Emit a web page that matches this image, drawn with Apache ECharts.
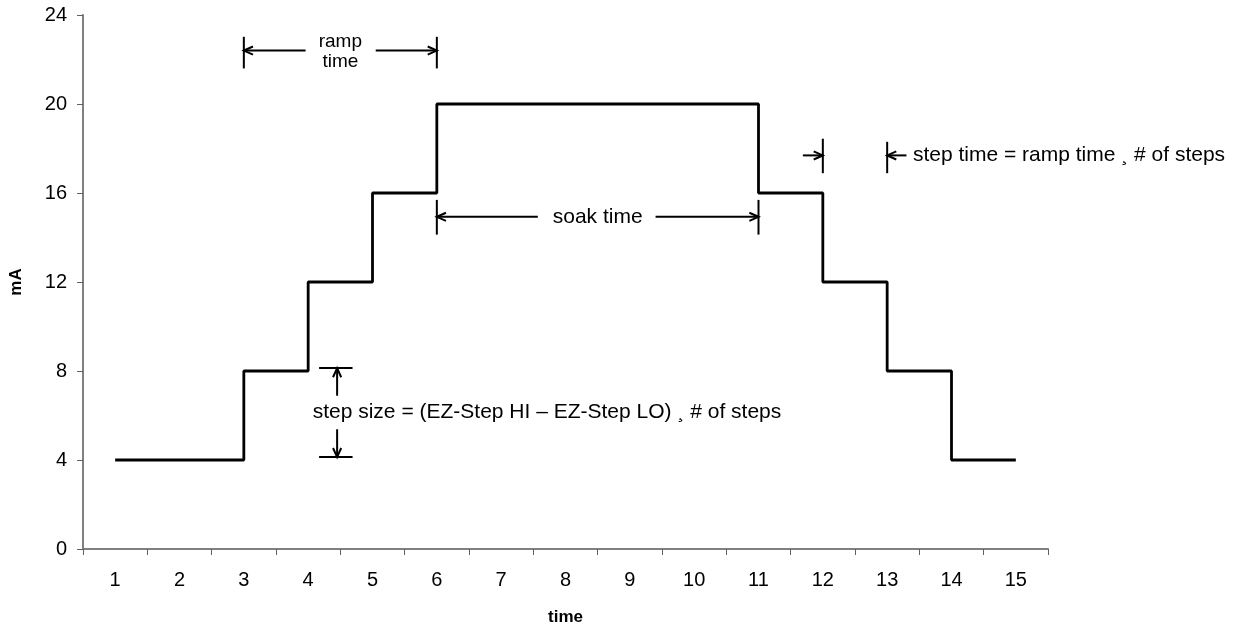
<!DOCTYPE html>
<html>
<head>
<meta charset="utf-8">
<script src="https://cdn.jsdelivr.net/npm/echarts@6/dist/echarts.min.js"></script>
<style>
html,body{margin:0;padding:0;background:#fff;}
#chart{width:1246px;height:631px;}
</style>
</head>
<body>
<div id="chart"></div>
<script>
// ---- data ----
const categories = ['1','2','3','4','5','6','7','8','9','10','11','12','13','14','15'];
const currentMA = [4, 4, 8, 12, 16, 20, 20, 20, 20, 20, 16, 12, 8, 4, 4];
const yTicks = [0, 4, 8, 12, 16, 20, 24];

// annotation segments in data space: [x1, y1, x2, y2]
const annotationBars = [
  [3, 23.02, 3, 21.6], [6, 23.02, 6, 21.6],
  [6, 15.69, 6, 14.13], [11, 15.69, 11, 14.13],
  [12, 18.44, 12, 16.89], [13, 18.3, 13, 16.89],
  [4.17, 8.13, 4.69, 8.13], [4.17, 4.13, 4.69, 4.13]
];
// arrows: [xFrom, yFrom, xHead, yHead]
const annotationArrows = [
  [3.96, 22.4, 3, 22.4], [5.05, 22.4, 6, 22.4],
  [7.57, 14.93, 6, 14.93], [9.4, 14.93, 11, 14.93],
  [11.69, 17.69, 12, 17.69], [13.3, 17.69, 13, 17.69],
  [4.45, 6.89, 4.45, 8.13], [4.45, 5.38, 4.45, 4.13]
];
// texts: [x, y]
const annotationTextPos = [[4.5, 22.33], [8.5, 14.93], [13.4, 17.69], [4.07, 6.13]];
const annotationTextStr = ['ramp\ntime', 'soak time', 'step time = ramp time \u00b8 # of steps', 'step size = (EZ-Step HI \u2013 EZ-Step LO) \u00b8 # of steps'];
const annotationTextAlign = ['center', 'center', 'left', 'left'];
const annotationTextSize = [19, 21, 21, 21];

const FONT = "'Liberation Sans', Arial, sans-serif";
const chart = echarts.init(document.getElementById('chart'));

function segRender(withHead) {
  return function (params, api) {
    const p1 = api.coord([api.value(0), api.value(1)]);
    const p2 = api.coord([api.value(2), api.value(3)]);
    const children = [{
      type: 'line',
      shape: {x1: p1[0], y1: p1[1], x2: p2[0], y2: p2[1]},
      style: {stroke: '#000', lineWidth: 2}
    }];
    if (withHead) {
      const ang = Math.atan2(p2[1] - p1[1], p2[0] - p1[0]);
      const L = 10, a = 0.42;
      children.push({
        type: 'polyline',
        shape: {points: [
          [p2[0] - L * Math.cos(ang - a), p2[1] - L * Math.sin(ang - a)],
          [p2[0], p2[1]],
          [p2[0] - L * Math.cos(ang + a), p2[1] - L * Math.sin(ang + a)]
        ]},
        style: {stroke: '#000', lineWidth: 2, fill: null}
      });
    }
    return {type: 'group', children: children};
  };
}

chart.setOption({
  animation: false,
  backgroundColor: '#fff',
  grid: {left: 82, right: 198, top: 15, bottom: 76},
  xAxis: [{
    type: 'category',
    data: categories,
    boundaryGap: true,
    name: 'time',
    nameLocation: 'middle',
    nameGap: 60,
    nameTextStyle: {fontFamily: FONT, fontSize: 17, fontWeight: 'bold', color: '#000'},
    axisLine: {lineStyle: {color: '#808080', width: 2}},
    axisTick: {show: true, inside: false, length: 6, lineStyle: {color: '#606060', width: 1}},
    axisLabel: {fontFamily: FONT, fontSize: 20, color: '#000', margin: 21},
    splitLine: {show: false}
  }, {
    type: 'value',
    min: 0.5,
    max: 15.5,
    show: false
  }],
  yAxis: {
    type: 'value',
    min: yTicks[0],
    max: yTicks[yTicks.length - 1],
    interval: 4,
    name: 'mA',
    nameLocation: 'middle',
    nameGap: 58,
    nameTextStyle: {fontFamily: FONT, fontSize: 17, fontWeight: 'bold', color: '#000'},
    axisLine: {show: true, lineStyle: {color: '#808080', width: 2}},
    axisTick: {show: true, inside: false, length: 6, lineStyle: {color: '#606060', width: 1}},
    axisLabel: {fontFamily: FONT, fontSize: 20, color: '#000', margin: 16},
    splitLine: {show: false}
  },
  series: [{
    type: 'line',
    xAxisIndex: 0,
    data: currentMA,
    step: 'end',
    symbol: 'none',
    lineStyle: {color: '#000', width: 2.8},
    z: 5
  }, {
    type: 'custom',
    xAxisIndex: 1,
    clip: false,
    data: annotationBars,
    encode: {x: [0, 2], y: [1, 3]},
    renderItem: segRender(false),
    silent: true
  }, {
    type: 'custom',
    xAxisIndex: 1,
    clip: false,
    data: annotationArrows,
    encode: {x: [0, 2], y: [1, 3]},
    renderItem: segRender(true),
    silent: true
  }, {
    type: 'custom',
    xAxisIndex: 1,
    clip: false,
    data: annotationTextPos,
    encode: {x: 0, y: 1},
    renderItem: function (params, api) {
      const p = api.coord([api.value(0), api.value(1)]);
      return {
        type: 'text',
        x: p[0], y: p[1],
        style: {
          text: annotationTextStr[params.dataIndex],
          fontFamily: FONT,
          fontSize: annotationTextSize[params.dataIndex],
          lineHeight: 20,
          fill: '#000',
          align: annotationTextAlign[params.dataIndex],
          verticalAlign: 'middle'
        }
      };
    },
    silent: true
  }]
});
</script>
</body>
</html>
